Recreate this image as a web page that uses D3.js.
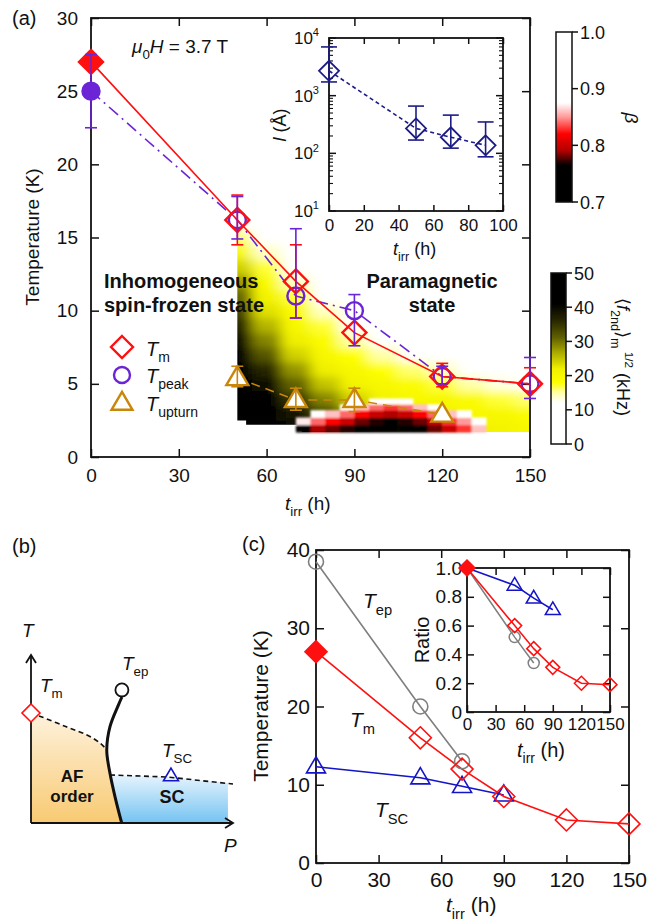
<!DOCTYPE html>
<html><head><meta charset="utf-8">
<script src="https://cdn.jsdelivr.net/npm/d3@7"></script>
<style>
body{margin:0;background:#fff}
svg{display:block}
text{font-family:"Liberation Sans", Arial, Helvetica, sans-serif; fill:#111}
</style>
</head><body>
<svg id="c" width="667" height="924"></svg>
<script>
// ================= DATA =================
// Panel (a): transition temperatures vs irradiation time
const tirrA   = [0, 50, 70, 90, 120, 150];
const TmA     = [27, 16.2, 12, 8.5, 5.5, 5.0];
const TmLo    = [null, 14.5, 9.5, null, 4.8, 4.5];
const TmHi    = [null, 17.9, 14.5, null, 6.4, 6.1];
const TpeakA  = [25, 16.2, 11, 10, 5.5, 5.0];
const TpeakLo = [22.5, 14.9, 9.5, 7.6, 5.0, 4.0];
const TpeakHi = [27.5, 17.8, 15.6, 11.1, 6.2, 6.8];
const tirrUp  = [50, 70, 90, 120];
const TupA    = [5.4, 3.9, 3.9, 2.9];
const TupLo   = [4.8, 3.2, 3.1, null];
const TupHi   = [6.2, 4.7, 4.7, null];

// Panel (a) inset: correlation length l (Å)
const tirrL = [0, 50, 70, 90];
const lenL  = [2700, 270, 190, 138];
const lenLo = [1730, 170, 123, 87];
const lenHi = [7000, 660, 460, 350];

// Panel (a) heat map of <f_2nd>_m^1/2 (kHz): rows = T (K), columns = t_irr (h)
const fTirr = [50, 60, 70, 80, 90, 100, 110, 120, 130, 140, 150];
const fT    = [2, 3, 4, 5, 6, 7, 8, 9, 10, 11, 12, 13, 14, 15, 16];
const fVals = [
  [50, 50, 45, 38, 32, 28, 26, 24, 22, 21, 20],
  [50, 48, 38, 33, 27, 24, 22, 21, 20, 20, 19],
  [50, 45, 35, 29, 24, 21, 20, 20, 19, 17, 16],
  [48, 40, 31, 25, 21, 20, 19, 17, 15, 13, 10],
  [45, 36, 28, 22, 20, 18, 16, 14,  8,  5,  3],
  [42, 32, 24, 20, 18, 15, 10,  5,  2,  0,  0],
  [40, 29, 22, 19, 15,  8,  4,  0,  0,  0,  0],
  [37, 26, 20, 17, 10,  3,  0,  0,  0,  0,  0],
  [34, 23, 19, 14,  5,  0,  0,  0,  0,  0,  0],
  [31, 21, 17,  8,  2,  0,  0,  0,  0,  0,  0],
  [28, 19, 14,  4,  0,  0,  0,  0,  0,  0,  0],
  [24, 17,  8,  2,  0,  0,  0,  0,  0,  0,  0],
  [20, 14,  4,  0,  0,  0,  0,  0,  0,  0,  0],
  [16,  8,  2,  0,  0,  0,  0,  0,  0,  0,  0],
  [10,  4,  0,  0,  0,  0,  0,  0,  0,  0,  0]
];
// lower edge of the heat map
const heatEdgeTirr = [50, 53, 53, 72, 72, 150];
const heatEdgeT    = [2.5, 2.5, 2.2, 2.2, 1.7, 1.7];

// Panel (a) beta map: columns = t_irr edges, rows = T edges, values per column (bottom -> top)
const bTirrEdges = [70, 75, 80, 85, 90, 95, 100, 105, 110, 115, 120, 125, 130, 135];
const bTEdges    = [1.7, 2.2, 2.7, 3.2, 3.6, 4.0];
const bVals = [
  [0.75, 0.87, null, null, null],
  [0.79, 0.84, 0.90, null, null],
  [0.78, 0.82, 0.86, null, null],
  [0.77, 0.80, 0.84, 0.90, null],
  [0.76, 0.78, 0.82, 0.86, null],
  [0.74, 0.77, 0.80, 0.84, 0.89],
  [0.73, 0.76, 0.79, 0.83, 0.88],
  [0.74, 0.77, 0.80, 0.84, 0.89],
  [0.76, 0.78, 0.82, 0.86, null],
  [0.78, 0.80, 0.84, 0.88, null],
  [0.80, 0.83, 0.86, null, null],
  [0.83, 0.85, 0.89, null, null],
  [0.86, 0.90, null, null, null]
];
const betaTicks = [0.7, 0.8, 0.9, 1.0];
const fTicks = [0, 10, 20, 30, 40, 50];

// Panel (c)
const tirrEp = [0, 50, 70];
const TepC   = [38.5, 20, 13];
const tirrC  = [0, 50, 70, 90, 120, 150];
const TmC    = [27, 16, 12, 8.5, 5.5, 5.0];
const tirrSC = [0, 50, 70, 90];
const TscC   = [12.3, 10.9, 9.8, 8.7];
// Panel (c) inset: ratios
const ratioEp = [1.0, 0.52, 0.34];
const ratioTm = [1.0, 0.60, 0.44, 0.31, 0.20, 0.19];
const ratioSC = [1.0, 0.88, 0.79, 0.71];

// Panel (b) schematic (normalized P, T units)
const afLineP = [0, 0.054, 0.178, 0.277, 0.342, 0.376];
const afLineT = [0.655, 0.631, 0.571, 0.524, 0.476, 0.435];
const epCurveP = [0.45, 0.432, 0.391, 0.375, 0.391, 0.416, 0.449];
const epCurveT = [0.75, 0.70, 0.573, 0.435, 0.296, 0.156, 0.0];
const scLineP = [0.391, 0.673, 1.0];
const scLineT = [0.286, 0.274, 0.232];
const schemTm = [0, 0.655];
const schemEp = [0.45, 0.792];
const schemSC = [0.693, 0.28];

// ================= HELPERS =================
const svg = d3.select('#c');
const RED = '#ff1010', PUR = '#6b24d6', GOLD = '#c8860a', NAVY = '#1c1c86', BLUE = '#1414c8', GRAY = '#7f7f7f';

function rich(sel, x, y, parts, size, attrs) {
  const t = sel.append('text').attr('x', x).attr('y', y).attr('font-size', size);
  if (attrs) Object.entries(attrs).forEach(([k, v]) => t.attr(k, v));
  let shift = 0;
  parts.forEach(p => {
    const s = t.append('tspan').text(p.t);
    const target = p.sub ? size * 0.32 : p.sup ? -size * 0.45 : 0;
    s.attr('dy', target - shift); shift = target;
    if (p.sub || p.sup) s.attr('font-size', size * (p.scale || 0.7));
    if (p.i) s.attr('font-style', 'italic');
    if (p.b) s.attr('font-weight', 'bold');
  });
  return t;
}
const diamondPath = (x, y, h) => `M${x},${y-h}L${x+h},${y}L${x},${y+h}L${x-h},${y}Z`;
const triPath = (x, y, w) => { const h = w * 0.85; return `M${x},${y-h*0.62}L${x+w/2},${y+h*0.38}L${x-w/2},${y+h*0.38}Z`; };

function frameAxes(g, x, y, opt) {
  const [x0, x1] = x.range(), [y0, y1] = y.range();
  const ts = opt.tick || 8;
  const bx = g.append('g').attr('transform', `translate(0,${y0})`)
    .call(d3.axisBottom(x).tickValues(opt.xt).tickSizeInner(-ts).tickSizeOuter(0).tickPadding(opt.xpad).tickFormat(opt.xf || d3.format('d')));
  const tx = g.append('g').attr('transform', `translate(0,${y1})`)
    .call(d3.axisTop(x).tickValues(opt.xt).tickSizeInner(-ts).tickSizeOuter(0).tickFormat(''));
  const ly = g.append('g').attr('transform', `translate(${x0},0)`)
    .call(d3.axisLeft(y).tickValues(opt.yt).tickSizeInner(-ts).tickSizeOuter(0).tickPadding(opt.ypad).tickFormat(opt.yf || d3.format('d')));
  const ry = g.append('g').attr('transform', `translate(${x1},0)`)
    .call(d3.axisRight(y).tickValues(opt.yt).tickSizeInner(-ts).tickSizeOuter(0).tickFormat(''));
  [bx, tx, ly, ry].forEach(a => {
    a.select('.domain').remove();
    a.selectAll('line').attr('stroke', '#111').attr('stroke-width', 1.5);
    a.selectAll('text').attr('font-size', opt.fs).attr('fill', '#111').style('font-family', '"Liberation Sans", Arial, sans-serif');
  });
  if (opt.xfs) bx.selectAll('text').attr('font-size', opt.xfs);
  g.append('rect').attr('x', x0).attr('y', y1).attr('width', x1 - x0).attr('height', y0 - y1)
    .attr('fill', 'none').attr('stroke', '#111').attr('stroke-width', 1.8);
  return {bx, ly};
}

function errBars(g, xs, ys, lo, hi, x, y, color, cap) {
  xs.forEach((t, i) => {
    if (lo[i] == null) return;
    const px = x(t);
    g.append('line').attr('x1', px).attr('x2', px).attr('y1', y(lo[i])).attr('y2', y(hi[i])).attr('stroke', color).attr('stroke-width', 1.6);
    [lo[i], hi[i]].forEach(v => g.append('line').attr('x1', px - cap).attr('x2', px + cap).attr('y1', y(v)).attr('y2', y(v)).attr('stroke', color).attr('stroke-width', 1.6));
  });
}

// ================= PANEL (a) =================
const xA = d3.scaleLinear().domain([0, 150]).range([91, 530]);
const yA = d3.scaleLinear().domain([0, 30]).range([457, 18]);
const gA = svg.append('g');

const fColor = d3.scaleLinear()
  .domain([0, 12, 15, 18, 22, 27, 31, 36, 41, 50])
  .range(['#ffffff', '#ffffff', '#ffffa8', '#ffff00', '#f0f000', '#a6a600', '#626200', '#282800', '#000000', '#000000']).clamp(true);
const bColor = d3.scaleLinear()
  .domain([0.70, 0.765, 0.79, 0.82, 0.85, 0.875, 1.0])
  .range(['#000000', '#000000', '#b00000', '#ff0000', '#ff9a9a', '#ffffff', '#ffffff']).clamp(true);

const defs = svg.append('defs');
defs.append('filter').attr('id', 'blur').attr('filterUnits', 'userSpaceOnUse')
  .attr('x', 150).attr('y', 0).attr('width', 450).attr('height', 480)
  .append('feGaussianBlur').attr('stdDeviation', '7 4');
defs.append('filter').attr('id', 'blur2').attr('filterUnits', 'userSpaceOnUse')
  .attr('x', 250).attr('y', 350).attr('width', 300).attr('height', 120)
  .append('feGaussianBlur').attr('stdDeviation', '1.2 0.8');
const clipPts = [[50, 17], [150, 17]].concat(heatEdgeTirr.map((t, i) => [t, heatEdgeT[i]]).reverse());
defs.append('clipPath').attr('id', 'heatclip').append('polygon')
  .attr('points', clipPts.map(p => `${xA(p[0])},${yA(p[1])}`).join(' '));

const heatOuter = gA.append('g').attr('clip-path', 'url(#heatclip)');
const heat = heatOuter.append('g').attr('filter', 'url(#blur)');
fT.forEach((T, r) => {
  fTirr.forEach((t, c) => {
    let t0 = t - 5, t1 = t + 5, T0 = T - 0.5, T1 = T + 0.5;
    if (c === 0) t0 -= 10;
    if (c === fTirr.length - 1) t1 += 10;
    if (r === 0) T0 -= 1.5;
    heat.append('rect').attr('x', xA(t0)).attr('y', yA(T1))
      .attr('width', xA(t1) - xA(t0) + 0.5).attr('height', yA(T0) - yA(T1) + 0.5)
      .attr('fill', fColor(fVals[r][c]));
  });
});
// beta overlay
const betaG = gA.append('g').attr('filter', 'url(#blur2)');
bVals.forEach((col, c) => {
  col.forEach((v, r) => {
    if (v == null) return;
    betaG.append('rect').attr('x', xA(bTirrEdges[c])).attr('y', yA(bTEdges[r + 1]))
      .attr('width', xA(bTirrEdges[c + 1]) - xA(bTirrEdges[c]) + 0.4)
      .attr('height', yA(bTEdges[r]) - yA(bTEdges[r + 1]) + 0.4)
      .attr('fill', bColor(v));
  });
});

frameAxes(gA, xA, yA, {xt: [0, 30, 60, 90, 120, 150], yt: [0, 5, 10, 15, 20, 25, 30], xpad: 12, ypad: 13, fs: 19});

// lines
const lineA = d3.line().x(d => xA(d[0])).y(d => yA(d[1]));
gA.append('path').attr('d', lineA(tirrA.map((t, i) => [t, TpeakA[i]]))).attr('fill', 'none')
  .attr('stroke', PUR).attr('stroke-width', 1.6).attr('stroke-dasharray', '12,5,2,5');
gA.append('path').attr('d', lineA(tirrUp.map((t, i) => [t, TupA[i]]))).attr('fill', 'none')
  .attr('stroke', GOLD).attr('stroke-width', 1.6).attr('stroke-dasharray', '9,6');
gA.append('path').attr('d', lineA(tirrA.map((t, i) => [t, TmA[i]]))).attr('fill', 'none')
  .attr('stroke', RED).attr('stroke-width', 1.6);

// markers
tirrUp.forEach((t, i) => gA.append('path').attr('d', triPath(xA(t), yA(TupA[i]), 22))
  .attr('fill', '#fff').attr('stroke', GOLD).attr('stroke-width', 2.4));
tirrA.forEach((t, i) => gA.append('circle').attr('cx', xA(t)).attr('cy', yA(TpeakA[i])).attr('r', 8.5)
  .attr('fill', i === 0 ? PUR : 'none').attr('stroke', PUR).attr('stroke-width', 2.4));
tirrA.forEach((t, i) => gA.append('path').attr('d', diamondPath(xA(t), yA(TmA[i]), 12))
  .attr('fill', i === 0 ? RED : 'none').attr('stroke', RED).attr('stroke-width', 2.4));
errBars(gA, tirrUp, TupA, TupLo, TupHi, xA, yA, GOLD, 6);
errBars(gA, tirrA, TmA, TmLo, TmHi, xA, yA, RED, 6);
errBars(gA, tirrA, TpeakA, TpeakLo, TpeakHi, xA, yA, PUR, 6);

// legend
gA.append('path').attr('d', diamondPath(122, 347, 11)).attr('fill', 'none').attr('stroke', RED).attr('stroke-width', 2.4);
rich(gA, 146, 356, [{t: 'T', i: true}, {t: 'm', sub: true}], 20);
gA.append('circle').attr('cx', 122).attr('cy', 375).attr('r', 8).attr('fill', 'none').attr('stroke', PUR).attr('stroke-width', 2.4);
rich(gA, 146, 383, [{t: 'T', i: true}, {t: 'peak', sub: true}], 20);
gA.append('path').attr('d', triPath(122, 403, 21)).attr('fill', 'none').attr('stroke', GOLD).attr('stroke-width', 2.4);
rich(gA, 146, 411, [{t: 'T', i: true}, {t: 'upturn', sub: true}], 20);

// region labels
gA.append('text').attr('x', 104).attr('y', 288).attr('font-size', 20).attr('font-weight', 'bold').text('Inhomogeneous');
gA.append('text').attr('x', 104).attr('y', 312).attr('font-size', 20).attr('font-weight', 'bold').text('spin-frozen state');
gA.append('text').attr('x', 432).attr('y', 288).attr('font-size', 20).attr('font-weight', 'bold').attr('text-anchor', 'middle').text('Paramagnetic');
gA.append('text').attr('x', 432).attr('y', 312).attr('font-size', 20).attr('font-weight', 'bold').attr('text-anchor', 'middle').text('state');
rich(gA, 132, 53, [{t: 'μ', i: true}, {t: '0', sub: true}, {t: 'H', i: true}, {t: ' = 3.7 T'}], 19);
gA.append('text').attr('x', 12).attr('y', 25).attr('font-size', 20).text('(a)');
gA.append('text').attr('transform', 'translate(39,237) rotate(-90)').attr('text-anchor', 'middle').attr('font-size', 19).text('Temperature (K)');
rich(gA, 285, 510, [{t: 't', i: true}, {t: 'irr', sub: true}, {t: ' (h)'}], 19);

// ---- inset (a)
const xL = d3.scaleLinear().domain([0, 100]).range([329, 503]);
const yL = d3.scaleLog().domain([10, 1e4]).range([211, 38]);
const gL = svg.append('g');
gL.append('rect').attr('x', 329).attr('y', 38).attr('width', 174).attr('height', 173).attr('fill', '#fff');
const axL = gL.append('g').attr('transform', 'translate(0,211)')
  .call(d3.axisBottom(xL).tickValues([0, 20, 40, 60, 80, 100]).tickSizeInner(-6).tickSizeOuter(0).tickPadding(8));
const axLt = gL.append('g').attr('transform', 'translate(0,38)')
  .call(d3.axisTop(xL).tickValues([0, 20, 40, 60, 80, 100]).tickSizeInner(-6).tickSizeOuter(0).tickFormat(''));
[axL, axLt].forEach(a => { a.select('.domain').remove(); a.selectAll('line').attr('stroke', '#111').attr('stroke-width', 1.5); a.selectAll('text').attr('font-size', 17).style('font-family', '"Liberation Sans", Arial, sans-serif').attr('fill', '#111'); });
const majorL = [10, 100, 1000, 10000];
const minorL = [];
[10, 100, 1000].forEach(d => { for (let k = 2; k <= 9; k++) minorL.push(d * k); });
[329, 503].forEach((xx, s) => {
  const dir = s === 0 ? 1 : -1;
  majorL.forEach(v => gL.append('line').attr('x1', xx).attr('x2', xx + dir * 7).attr('y1', yL(v)).attr('y2', yL(v)).attr('stroke', '#111').attr('stroke-width', 1.5));
  minorL.forEach(v => gL.append('line').attr('x1', xx).attr('x2', xx + dir * 4).attr('y1', yL(v)).attr('y2', yL(v)).attr('stroke', '#111').attr('stroke-width', 1.1));
});
majorL.forEach((v, i) => rich(gL, 319, yL(v) + 6, [{t: '10'}, {t: String(i + 1), sup: true, scale: 0.65}], 17, {'text-anchor': 'end'}));
gL.append('rect').attr('x', 329).attr('y', 38).attr('width', 174).attr('height', 173).attr('fill', 'none').attr('stroke', '#111').attr('stroke-width', 1.8);
gL.append('path').attr('d', d3.line().x(d => xL(d[0])).y(d => yL(d[1]))(tirrL.map((t, i) => [t, lenL[i]])))
  .attr('fill', 'none').attr('stroke', NAVY).attr('stroke-width', 1.6).attr('stroke-dasharray', '4,3');
tirrL.forEach((t, i) => gL.append('path').attr('d', diamondPath(xL(t), yL(lenL[i]), 10)).attr('fill', 'none').attr('stroke', NAVY).attr('stroke-width', 1.8));
errBars(gL, tirrL, lenL, lenLo, lenHi, xL, yL, NAVY, 8);
rich(gL, 286, 125, [{t: 'l', i: true}, {t: ' (Å)'}], 18, {'text-anchor': 'middle', transform: 'rotate(-90,286,125)'});
rich(gL, 393, 255, [{t: 't', i: true}, {t: 'irr', sub: true}, {t: ' (h)'}], 18);

// ---- colorbars
function colorbar(id, scale, vmin, vmax, x, y0, y1, w, ticks, fmt) {
  const grad = defs.append('linearGradient').attr('id', id).attr('x1', 0).attr('y1', 1).attr('x2', 0).attr('y2', 0);
  d3.range(0, 1.0001, 0.01).forEach(f => grad.append('stop').attr('offset', f).attr('stop-color', scale(vmin + f * (vmax - vmin))));
  svg.append('rect').attr('x', x).attr('y', y0).attr('width', w).attr('height', y1 - y0).attr('fill', `url(#${id})`).attr('stroke', '#111').attr('stroke-width', 1.5);
  const cy = d3.scaleLinear().domain([vmin, vmax]).range([y1, y0]);
  ticks.forEach(v => {
    svg.append('line').attr('x1', x + w).attr('x2', x + w + 6).attr('y1', cy(v)).attr('y2', cy(v)).attr('stroke', '#111').attr('stroke-width', 1.5);
    svg.append('text').attr('x', x + w + 8).attr('y', cy(v) + 6.5).attr('font-size', 18).text(fmt(v));
  });
}
colorbar('gb', bColor, 0.7, 1.0, 556, 32, 202, 16, betaTicks, d3.format('.1f'));
colorbar('gf', fColor, 0, 50, 551, 273, 444, 15, fTicks, d3.format('d'));
svg.append('text').attr('transform', 'translate(625,118) rotate(90)').attr('text-anchor', 'middle').attr('font-size', 19).attr('font-style', 'italic').text('β');
rich(svg, 0, 0, [{t: '⟨'}, {t: 'f', i: true}, {t: '2nd', sub: true}, {t: '⟩'}, {t: 'm', sub: true}, {t: ' 1/2', sup: true, scale: 0.65}, {t: ' (kHz)'}], 18,
  {transform: 'translate(617,357) rotate(90)', 'text-anchor': 'middle'});

// ================= PANEL (b) =================
const xB = d3.scaleLinear().domain([0, 1]).range([31, 233]);
const yB = d3.scaleLinear().domain([0, 1]).range([823, 655]);
const gB = svg.append('g');
const gradAF = defs.append('linearGradient').attr('id', 'gaf').attr('x1', 0).attr('y1', 0).attr('x2', 0).attr('y2', 1);
gradAF.append('stop').attr('offset', 0).attr('stop-color', '#fef2dd');
gradAF.append('stop').attr('offset', 1).attr('stop-color', '#f8ca72');
const gradSC = defs.append('linearGradient').attr('id', 'gsc').attr('x1', 0).attr('y1', 0).attr('x2', 0).attr('y2', 1);
gradSC.append('stop').attr('offset', 0).attr('stop-color', '#e6f4fd');
gradSC.append('stop').attr('offset', 1).attr('stop-color', '#74c3f2');
const curveLine = d3.line().x(d => xB(d[0])).y(d => yB(d[1])).curve(d3.curveCatmullRom);
const afPts = afLineP.map((p, i) => [p, afLineT[i]]);
const epPts = epCurveP.map((p, i) => [p, epCurveT[i]]);
const scPts = scLineP.map((p, i) => [p, scLineT[i]]);
const afPoly = [[0, 0]].concat(afPts, epPts.slice(3), [[0, 0]]);
gB.append('path').attr('d', d3.line().x(d => xB(d[0])).y(d => yB(d[1]))(afPoly)).attr('fill', 'url(#gaf)');
const scPoly = [[scLineP[0], scLineT[0]], [0.673, 0.274], [0.975, 0.238], [0.975, 0], [0.449, 0], [0.416, 0.156], [0.395, 0.25]];
gB.append('path').attr('d', d3.line().x(d => xB(d[0])).y(d => yB(d[1]))(scPoly) + 'Z').attr('fill', 'url(#gsc)');
gB.append('path').attr('d', curveLine(afPts)).attr('fill', 'none').attr('stroke', '#111').attr('stroke-width', 1.6).attr('stroke-dasharray', '5,3.5');
gB.append('path').attr('d', d3.line().x(d => xB(d[0])).y(d => yB(d[1]))(scPts)).attr('fill', 'none').attr('stroke', '#111').attr('stroke-width', 1.6).attr('stroke-dasharray', '5,3.5');
gB.append('path').attr('d', curveLine(epPts)).attr('fill', 'none').attr('stroke', '#111').attr('stroke-width', 3);
gB.append('circle').attr('cx', xB(schemEp[0])).attr('cy', yB(schemEp[1])).attr('r', 6.5).attr('fill', '#fff').attr('stroke', '#111').attr('stroke-width', 1.8);
gB.append('line').attr('x1', xB(0)).attr('y1', yB(0)).attr('x2', xB(0)).attr('y2', yB(1)).attr('stroke', '#111').attr('stroke-width', 1.8);
gB.append('line').attr('x1', xB(0)).attr('y1', yB(0)).attr('x2', xB(1)).attr('y2', yB(0)).attr('stroke', '#111').attr('stroke-width', 1.8);
gB.append('path').attr('d', `M${xB(0) - 5},${yB(1) + 8}L${xB(0)},${yB(1)}L${xB(0) + 5},${yB(1) + 8}`).attr('fill', 'none').attr('stroke', '#111').attr('stroke-width', 1.8);
gB.append('path').attr('d', `M${xB(1) - 8},${yB(0) - 5}L${xB(1)},${yB(0)}L${xB(1) - 8},${yB(0) + 5}`).attr('fill', 'none').attr('stroke', '#111').attr('stroke-width', 1.8);
gB.append('path').attr('d', diamondPath(xB(schemTm[0]), yB(schemTm[1]), 9)).attr('fill', '#fff').attr('stroke', RED).attr('stroke-width', 1.6);
gB.append('path').attr('d', triPath(xB(schemSC[0]), yB(schemSC[1]), 15)).attr('fill', 'none').attr('stroke', BLUE).attr('stroke-width', 1.6);
rich(gB, 22, 637, [{t: 'T', i: true}], 19);
rich(gB, 40, 692, [{t: 'T', i: true}, {t: 'm', sub: true}], 19);
rich(gB, 122, 670, [{t: 'T', i: true}, {t: 'ep', sub: true}], 19);
rich(gB, 162, 757, [{t: 'T', i: true}, {t: 'SC', sub: true}], 19);
gB.append('text').attr('x', 72).attr('y', 782).attr('text-anchor', 'middle').attr('font-size', 17).attr('font-weight', 'bold').text('AF');
gB.append('text').attr('x', 72).attr('y', 802).attr('text-anchor', 'middle').attr('font-size', 17).attr('font-weight', 'bold').text('order');
gB.append('text').attr('x', 172).attr('y', 803).attr('text-anchor', 'middle').attr('font-size', 18).attr('font-weight', 'bold').text('SC');
rich(gB, 224, 852, [{t: 'P', i: true}], 19);
gB.append('text').attr('x', 12).attr('y', 553).attr('font-size', 20).text('(b)');

// ================= PANEL (c) =================
const xC = d3.scaleLinear().domain([0, 150]).range([316, 629]);
const yC = d3.scaleLinear().domain([0, 40]).range([863, 550]);
const gC = svg.append('g');
frameAxes(gC, xC, yC, {xt: [0, 30, 60, 90, 120, 150], yt: [0, 10, 20, 30, 40], xpad: 9, ypad: 6, fs: 21});
const lineC = d3.line().x(d => xC(d[0])).y(d => yC(d[1]));
gC.append('path').attr('d', lineC(tirrEp.map((t, i) => [t, TepC[i]]))).attr('fill', 'none').attr('stroke', GRAY).attr('stroke-width', 1.6);
gC.append('path').attr('d', lineC(tirrSC.map((t, i) => [t, TscC[i]]))).attr('fill', 'none').attr('stroke', BLUE).attr('stroke-width', 1.6);
gC.append('path').attr('d', lineC(tirrC.map((t, i) => [t, TmC[i]]))).attr('fill', 'none').attr('stroke', RED).attr('stroke-width', 1.6);
tirrEp.forEach((t, i) => gC.append('circle').attr('cx', xC(t)).attr('cy', yC(TepC[i])).attr('r', 7.5).attr('fill', 'none').attr('stroke', GRAY).attr('stroke-width', 1.6));
tirrSC.forEach((t, i) => gC.append('path').attr('d', triPath(xC(t), yC(TscC[i]), 19)).attr('fill', 'none').attr('stroke', BLUE).attr('stroke-width', 1.6));
tirrC.forEach((t, i) => gC.append('path').attr('d', diamondPath(xC(t), yC(TmC[i]), 11)).attr('fill', i === 0 ? RED : 'none').attr('stroke', RED).attr('stroke-width', 1.6));
rich(gC, 363, 608, [{t: 'T', i: true}, {t: 'ep', sub: true}], 21);
rich(gC, 350, 727, [{t: 'T', i: true}, {t: 'm', sub: true}], 21);
rich(gC, 375, 817, [{t: 'T', i: true}, {t: 'SC', sub: true}], 21);
gC.append('text').attr('x', 242).attr('y', 551).attr('font-size', 20).text('(c)');
gC.append('text').attr('transform', 'translate(268,706) rotate(-90)').attr('text-anchor', 'middle').attr('font-size', 21).text('Temperature (K)');
rich(gC, 446, 912, [{t: 't', i: true}, {t: 'irr', sub: true}, {t: ' (h)'}], 21);

// inset (c)
const xI = d3.scaleLinear().domain([0, 150]).range([467, 610]);
const yI = d3.scaleLinear().domain([0, 1]).range([712, 568]);
const gI = svg.append('g');
gI.append('rect').attr('x', 467).attr('y', 568).attr('width', 143).attr('height', 144).attr('fill', '#fff');
frameAxes(gI, xI, yI, {xt: [0, 30, 60, 90, 120, 150], yt: [0, 0.2, 0.4, 0.6, 0.8, 1.0], xpad: 6, ypad: 5, fs: 19, xfs: 17, tick: 7,
  yf: v => v === 0 ? '0' : d3.format('.1f')(v)});
const lineI = d3.line().x(d => xI(d[0])).y(d => yI(d[1]));
gI.append('path').attr('d', lineI(tirrEp.map((t, i) => [t, ratioEp[i]]))).attr('fill', 'none').attr('stroke', GRAY).attr('stroke-width', 1.5);
gI.append('path').attr('d', lineI(tirrSC.map((t, i) => [t, ratioSC[i]]))).attr('fill', 'none').attr('stroke', BLUE).attr('stroke-width', 1.5);
gI.append('path').attr('d', lineI(tirrC.map((t, i) => [t, ratioTm[i]]))).attr('fill', 'none').attr('stroke', RED).attr('stroke-width', 1.5);
tirrEp.forEach((t, i) => { if (i > 0) gI.append('circle').attr('cx', xI(t)).attr('cy', yI(ratioEp[i])).attr('r', 5.5).attr('fill', 'none').attr('stroke', GRAY).attr('stroke-width', 1.5); });
tirrSC.forEach((t, i) => { if (i > 0) gI.append('path').attr('d', triPath(xI(t), yI(ratioSC[i]), 15)).attr('fill', 'none').attr('stroke', BLUE).attr('stroke-width', 1.5); });
tirrC.forEach((t, i) => gI.append('path').attr('d', diamondPath(xI(t), yI(ratioTm[i]), i === 0 ? 8 : 7)).attr('fill', i === 0 ? RED : 'none').attr('stroke', RED).attr('stroke-width', 1.5));
gI.append('text').attr('transform', 'translate(429,640) rotate(-90)').attr('text-anchor', 'middle').attr('font-size', 20).text('Ratio');
rich(gI, 517, 757, [{t: 't', i: true}, {t: 'irr', sub: true}, {t: ' (h)'}], 20);
</script>
</body></html>
